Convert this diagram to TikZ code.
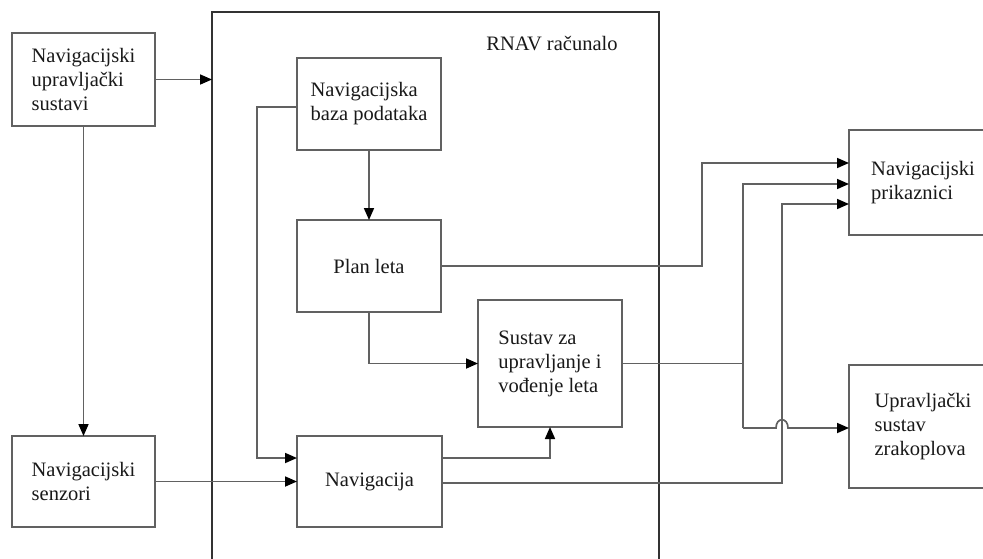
\documentclass[tikz,border=0pt]{standalone}
\usepackage{fontspec}
\setmainfont{Liberation Serif}
\usetikzlibrary{arrows.meta}
\begin{document}
\begin{tikzpicture}[x=1pt,y=-1pt,
  box/.style={draw=black!62,line width=1.7pt,inner sep=0pt,outer sep=0pt,align=left,
    font=\fontsize{20.5}{24}\selectfont,text=black!90},
  bigbox/.style={draw=black!80,line width=2.4pt,inner sep=0pt,outer sep=0pt},
  conn/.style={draw=black!62,line width=1.7pt},
  arr/.style={conn,-{Triangle[length=12pt,width=10pt,black]}},
  lbl/.style={font=\fontsize{20.5}{24}\selectfont,text=black!90,inner sep=0pt}]
\useasboundingbox (0,0) rectangle (983,558);
\clip (0,0) rectangle (983,558);
\fill[white] (0,0) rectangle (983,558);
% RNAV box
\node[bigbox,minimum width=447pt,minimum height=580pt] (rnav) at (435.5,302) {};
\node[lbl] (rnavlbl) at (552,44) {RNAV računalo};
% boxes
\node[box,minimum width=143pt,minimum height=93pt] (nus) at (83.5,79.5) {Navigacijski\\upravljački\\sustavi};
\node[box,minimum width=143pt,minimum height=91pt] (nsen) at (83.5,481.5) {Navigacijski\\senzori};
\node[box,minimum width=144pt,minimum height=92pt] (baza) at (369,104) {Navigacijska\\baza podataka};
\node[box,minimum width=144pt,minimum height=92pt] (plan) at (369,266) {Plan leta};
\node[box,minimum width=144pt,minimum height=127pt] (sustav) at (550,363.5) {Sustav za\\upravljanje i\\vođenje leta};
\node[box,minimum width=145pt,minimum height=91pt] (navig) at (369.5,481.5) {Navigacija};
\node[box,minimum width=148pt,minimum height=105pt] (prik) at (923,182.5) {Navigacijski\\prikaznici};
\node[box,minimum width=148pt,minimum height=123pt] (upr) at (923,426.5) {Upravljački\\sustav\\zrakoplova};
% junction coordinates
\coordinate (ja) at (257,107);
\coordinate (jb) at (257,458);
\coordinate (jc) at (702,266);
\coordinate (jd) at (702,163);
\coordinate (je) at (743,363.5);
\coordinate (jf) at (743,184);
\coordinate (jg) at (743,428);
\coordinate (jh) at (782,483);
\coordinate (ji) at (782,204);
% connectors
\draw[arr] (nus.east) -- (nus.east -| rnav.west);
\draw[arr] (nus.south) -- (nsen.north);
\draw[arr] (nsen.east) -- (nsen.east -| navig.west);
\draw[arr] (baza.west |- ja) -- (ja) -- (jb) -- (navig.west |- jb);
\draw[arr] (baza.south) -- (plan.north);
\draw[arr] (plan.south) |- (sustav.west);
\draw[arr] (navig.east |- jb) -| (sustav.south);
\draw[arr] (navig.east |- jh) -- (jh) -- (ji) -- (prik.west |- ji);
\draw[arr] (plan.east) -- (jc) -- (jd) -- (prik.west |- jd);
\draw[conn] (sustav.east) -- (je);
\draw[arr] (jg) -- (jf) -- (prik.west |- jf);
\draw[arr] (jg) -- ([xshift=-6pt]jh |- jg) .. controls ([xshift=-6pt,yshift=11pt]jh |- jg) and ([xshift=6pt,yshift=11pt]jh |- jg) .. ([xshift=6pt]jh |- jg) -- (upr.west |- jg);
\end{tikzpicture}
\end{document}
